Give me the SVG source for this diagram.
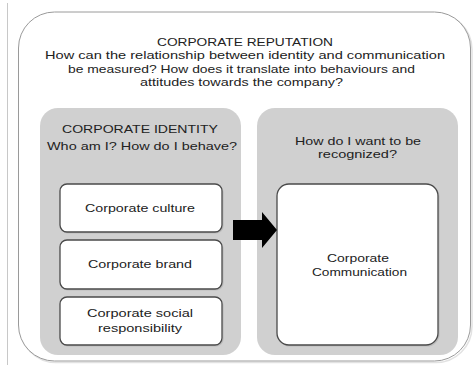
<svg xmlns="http://www.w3.org/2000/svg" width="475" height="365" viewBox="0 0 475 365">
<style>
.t{font-family:"Liberation Sans",Arial,sans-serif;font-size:11.5px;fill:#222;text-anchor:middle}
.panel{fill:#d0d0d0;stroke:none}
.box{fill:#fff;stroke:#4a4a4a;stroke-width:1.3}
.shadow{fill:none;stroke:#bbb;stroke-width:1.2}
</style>
<rect width="475" height="365" fill="#fff"/>
<line x1="7.5" y1="3" x2="7.5" y2="365" stroke="#c8c8c8" stroke-width="1"/>
<g id="reputation">
<rect x="20" y="13.5" width="452" height="349" rx="36" fill="none" stroke="#e2e2e2" stroke-width="1.5"/>
<rect x="18.5" y="12" width="452" height="349" rx="36" fill="#fff" stroke="#9a9a9a" stroke-width="1"/>
<text class="t" x="245" y="46" textLength="176" lengthAdjust="spacingAndGlyphs">CORPORATE REPUTATION</text>
<text class="t" x="245" y="59" textLength="400" lengthAdjust="spacingAndGlyphs">How can the relationship between identity and communication</text>
<text class="t" x="241.5" y="72.5" textLength="347" lengthAdjust="spacingAndGlyphs">be measured? How does it translate into behaviours and</text>
<text class="t" x="241.5" y="86" textLength="203" lengthAdjust="spacingAndGlyphs">attitudes towards the company?</text>
</g>
<g id="identity">
<rect class="panel" x="40" y="108" width="201" height="247" rx="18"/>
<text class="t" x="140" y="133" textLength="156" lengthAdjust="spacingAndGlyphs">CORPORATE IDENTITY</text>
<text class="t" x="142" y="150" textLength="190" lengthAdjust="spacingAndGlyphs">Who am I? How do I behave?</text>
</g>
<g id="culture">
<rect class="shadow" x="61" y="185" width="162" height="48" rx="7"/>
<rect class="box" x="60" y="184" width="162" height="48" rx="7"/>
<text class="t" x="140" y="212" textLength="110" lengthAdjust="spacingAndGlyphs">Corporate culture</text>
</g>
<g id="brand">
<rect class="shadow" x="61" y="241" width="162" height="49" rx="7"/>
<rect class="box" x="60" y="240" width="162" height="49" rx="7"/>
<text class="t" x="140" y="268" textLength="104" lengthAdjust="spacingAndGlyphs">Corporate brand</text>
</g>
<g id="csr">
<rect class="shadow" x="61" y="298" width="162" height="48" rx="7"/>
<rect class="box" x="60" y="297" width="162" height="48" rx="7"/>
<text class="t" x="140" y="317" textLength="106" lengthAdjust="spacingAndGlyphs">Corporate social</text>
<text class="t" x="140" y="332" textLength="84" lengthAdjust="spacingAndGlyphs">responsibility</text>
</g>
<g id="recognition">
<rect class="panel" x="257" y="108" width="201" height="247" rx="18"/>
<text class="t" x="358" y="145" textLength="126" lengthAdjust="spacingAndGlyphs">How do I want to be</text>
<text class="t" x="357.5" y="158" textLength="79" lengthAdjust="spacingAndGlyphs">recognized?</text>
</g>
<g id="communication">
<rect class="shadow" x="278" y="185" width="161" height="161" rx="12"/>
<rect class="box" x="277" y="184" width="161" height="161" rx="12"/>
<text class="t" x="358" y="262" textLength="62" lengthAdjust="spacingAndGlyphs">Corporate</text>
<text class="t" x="359.5" y="276" textLength="95" lengthAdjust="spacingAndGlyphs">Communication</text>
</g>
<g id="connectors">
<polygon points="233,220 262,220 262,212 277,230 262,248 262,240 233,240" fill="#000"/>
</g>
</svg>
